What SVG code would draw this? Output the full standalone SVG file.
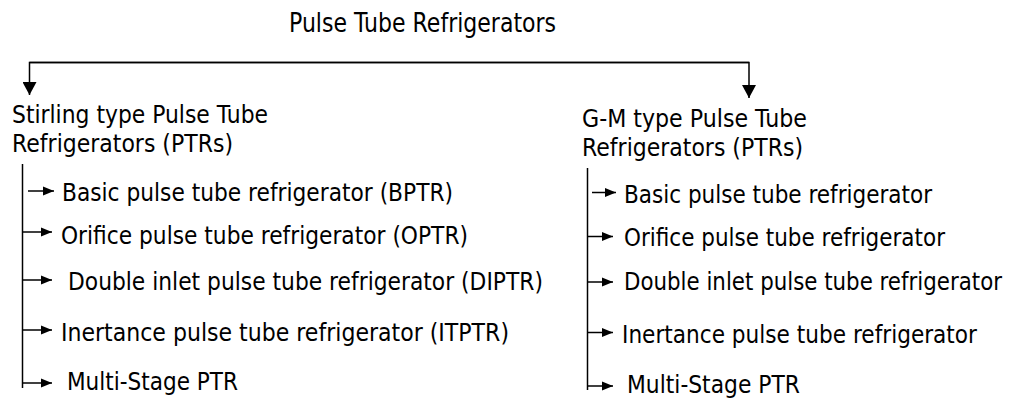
<svg xmlns="http://www.w3.org/2000/svg" width="1009" height="398" viewBox="0 0 1009 398">
<defs>
<style>
text{font-family:"DejaVu Sans","Liberation Sans",sans-serif;font-size:25px;fill:#000}
.ln{stroke:#000;stroke-width:1.5;fill:none}
</style>
<marker id="big" markerUnits="userSpaceOnUse" markerWidth="14" markerHeight="14" viewBox="0 0 14 14" refX="13" refY="7" orient="auto">
<path d="M0,0 L13,7 L0,14 Z" fill="#000"/>
</marker>
<marker id="sm" markerUnits="userSpaceOnUse" markerWidth="12" markerHeight="12" viewBox="0 0 12 12" refX="11" refY="6" orient="auto">
<path d="M0,1.5 L11,6 L0,10.5 Z" fill="#000"/>
</marker>
</defs>
<rect width="1009" height="398" fill="#fff"/>
<g id="root"><text x="289" y="32" textLength="267" lengthAdjust="spacingAndGlyphs" style="font-size:26px">Pulse Tube Refrigerators</text></g>
<g id="stirling"><text x="12" y="123" textLength="256" lengthAdjust="spacingAndGlyphs">Stirling type Pulse Tube</text><text x="12" y="152" textLength="221" lengthAdjust="spacingAndGlyphs">Refrigerators (PTRs)</text></g>
<g id="gm"><text x="582" y="127" textLength="225" lengthAdjust="spacingAndGlyphs">G-M type Pulse Tube</text><text x="582" y="156" textLength="221" lengthAdjust="spacingAndGlyphs">Refrigerators (PTRs)</text></g>
<g id="s1"><text x="62" y="201" textLength="391" lengthAdjust="spacingAndGlyphs">Basic pulse tube refrigerator (BPTR)</text></g>
<g id="s2"><text x="61" y="243.5" textLength="407" lengthAdjust="spacingAndGlyphs">Orifice pulse tube refrigerator (OPTR)</text></g>
<g id="s3"><text x="68" y="290" textLength="475" lengthAdjust="spacingAndGlyphs">Double inlet pulse tube refrigerator (DIPTR)</text></g>
<g id="s4"><text x="61" y="341" textLength="448" lengthAdjust="spacingAndGlyphs">Inertance pulse tube refrigerator (ITPTR)</text></g>
<g id="s5"><text x="67" y="390" textLength="171" lengthAdjust="spacingAndGlyphs">Multi-Stage PTR</text></g>
<g id="g1"><text x="624" y="202.5" textLength="308" lengthAdjust="spacingAndGlyphs">Basic pulse tube refrigerator</text></g>
<g id="g2"><text x="624" y="246" textLength="321" lengthAdjust="spacingAndGlyphs">Orifice pulse tube refrigerator</text></g>
<g id="g3"><text x="624" y="290" textLength="378" lengthAdjust="spacingAndGlyphs">Double inlet pulse tube refrigerator</text></g>
<g id="g4"><text x="622" y="343" textLength="355" lengthAdjust="spacingAndGlyphs">Inertance pulse tube refrigerator</text></g>
<g id="g5"><text x="627" y="393" textLength="173" lengthAdjust="spacingAndGlyphs">Multi-Stage PTR</text></g>
<g id="connectors">
<path class="ln" d="M749,62.5 H29.5 V95" marker-end="url(#big)"/>
<path class="ln" d="M29.5,62.5 H749 V98" marker-end="url(#big)"/>
<path class="ln" d="M22.5,164 V388"/>
<path class="ln" d="M28,191 H54" marker-end="url(#sm)"/>
<path class="ln" d="M22.5,232 H52" marker-end="url(#sm)"/>
<path class="ln" d="M22.5,280 H52" marker-end="url(#sm)"/>
<path class="ln" d="M22.5,330 H52" marker-end="url(#sm)"/>
<path class="ln" d="M22.5,383 H52" marker-end="url(#sm)"/>
<path class="ln" d="M587.5,168 V390"/>
<path class="ln" d="M592,192.5 H616" marker-end="url(#sm)"/>
<path class="ln" d="M587.5,236.5 H613" marker-end="url(#sm)"/>
<path class="ln" d="M587.5,282 H613" marker-end="url(#sm)"/>
<path class="ln" d="M587.5,332.5 H613" marker-end="url(#sm)"/>
<path class="ln" d="M587.5,386 H613" marker-end="url(#sm)"/>
</g>
</svg>
